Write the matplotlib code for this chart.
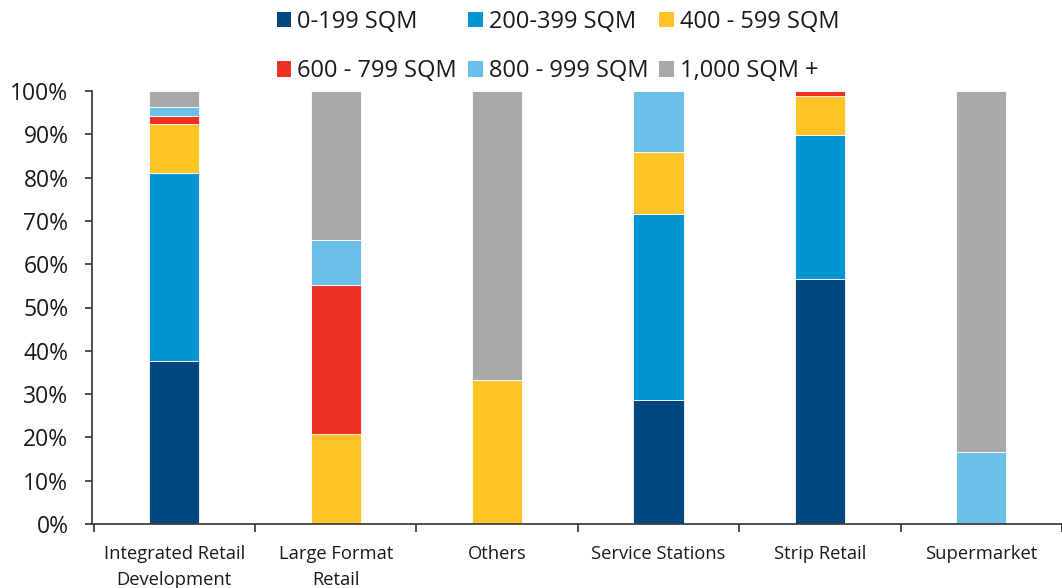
import matplotlib
matplotlib.use("Agg")
import matplotlib.pyplot as plt
from matplotlib.patches import Patch
import numpy as np

plt.rcParams['font.family'] = ['Open Sans', 'DejaVu Sans']

categories = ["Integrated Retail\nDevelopment", "Large Format\nRetail", "Others",
              "Service Stations", "Strip Retail", "Supermarket"]
series_names = ["0-199 SQM", "200-399 SQM", "400 - 599 SQM",
                "600 - 799 SQM", "800 - 999 SQM", "1,000 SQM +"]
s_0_199 = [37.7, 0.0, 0.0, 28.6, 56.5, 0.0]
s_200_399 = [43.4, 0.0, 0.0, 42.9, 33.3, 0.0]
s_400_599 = [11.3, 20.7, 33.3, 14.3, 9.0, 0.0]
s_600_799 = [1.9, 34.5, 0.0, 0.0, 1.2, 0.0]
s_800_999 = [1.9, 10.3, 0.0, 14.2, 0.0, 16.7]
s_1000p = [3.8, 34.5, 66.7, 0.0, 0.0, 83.3]
colors = ["#00477F", "#0095D3", "#FFC425", "#EE3124", "#6CC0E7", "#A9A9A9"]

series = [s_0_199, s_200_399, s_400_599, s_600_799, s_800_999, s_1000p]

fig = plt.figure(figsize=(10.62, 5.88), dpi=100)
ax = fig.add_axes([92/1062, 1-524/588, 1-92/1062, (524-91)/588])

x = np.arange(len(categories))
bottom = np.zeros(len(categories))
handles = []
for vals, c, name in zip(series, colors, series_names):
    v = np.array(vals)
    ax.bar(x, v, 0.31, bottom=bottom, color=c, edgecolor="white", linewidth=0.6)
    bottom += v
    handles.append(Patch(facecolor=c, edgecolor='none', label=name))

ax.set_xlim(-0.51, 5.47)
ax.set_ylim(0, 100)
ax.set_yticks(np.arange(0, 101, 10))
ax.set_yticklabels([f"{v}%" for v in range(0, 101, 10)], fontsize=16.5, color="#1a1a1a")
ax.set_xticks(x)
ax.set_xticklabels(categories, fontsize=13.2, color="#1a1a1a", linespacing=1.55)
ax.tick_params(axis='x', length=0, pad=15)
ax.set_xticks(np.arange(-0.5, 5.6, 1.0), minor=True)
ax.tick_params(axis='x', which='minor', length=6, width=1.3, color="#404040", direction='out')
ax.tick_params(axis='y', length=5, width=1.3, color="#404040", direction='out', pad=12)
for s in ['top', 'right']:
    ax.spines[s].set_visible(False)
for s in ['left', 'bottom']:
    ax.spines[s].set_color("#404040")
    ax.spines[s].set_linewidth(1.3)

order = [0, 3, 1, 4, 2, 5]
leg = fig.legend(handles=[handles[i] for i in order], ncol=3, frameon=False, fontsize=17,
                 handlelength=0.62, handleheight=0.62, handletextpad=0.26,
                 columnspacing=0.46, labelspacing=1.08, borderaxespad=0, borderpad=0,
                 loc='center', bbox_to_anchor=(558/1062, 1-46.5/588))
for t in leg.get_texts():
    t.set_color("#1a1a1a")

fig.savefig("out.png", dpi=100)
